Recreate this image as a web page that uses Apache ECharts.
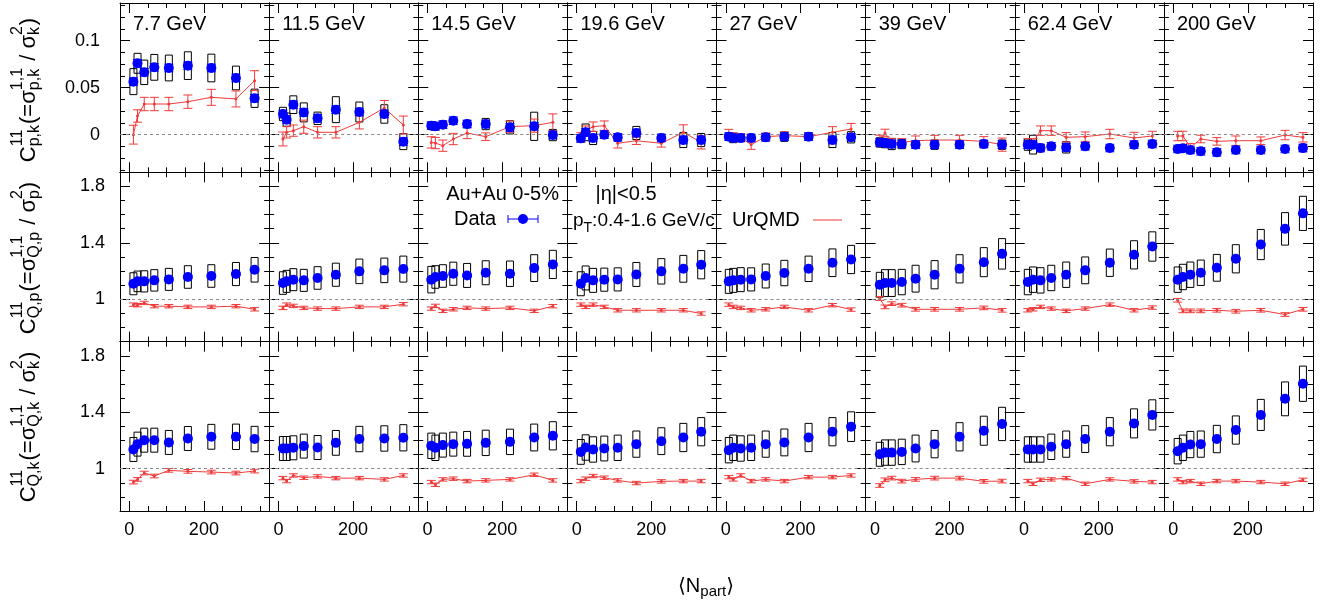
<!DOCTYPE html>
<html>
<head>
<meta charset="utf-8">
<script src="https://cdn.jsdelivr.net/npm/echarts@6/dist/echarts.min.js"></script>
<style>
  html, body { margin: 0; padding: 0; background: #fff; }
  #chart { width: 1334px; height: 605px; }
</style>
</head>
<body>
<div id="chart"></div>
<script>
const FONT = '"Liberation Sans", Arial, Helvetica, "DejaVu Sans", sans-serif';

const energies = ['7.7 GeV', '11.5 GeV', '14.5 GeV', '19.6 GeV', '27 GeV', '39 GeV', '62.4 GeV', '200 GeV'];

// <Npart> per energy
const npart = [
  [11, 22, 40, 67, 106, 157, 220, 286, 336],
  [12, 22, 40, 68, 105, 154, 217, 284, 335],
  [10, 21, 41, 69, 106, 156, 221, 286, 336],
  [11, 24, 44, 74, 110, 160, 227, 286, 334],
  [8, 20, 40, 68, 107, 157, 222, 286, 336],
  [13, 27, 45, 72, 109, 160, 227, 292, 341],
  [10, 24, 44, 73, 113, 164, 230, 295, 344],
  [12, 26, 46, 74, 117, 168, 235, 300, 348]
];

// C11 p,k
const cpkData = [
  [0.0564, 0.0759, 0.0663, 0.0716, 0.0709, 0.0734, 0.0709, 0.0603, 0.0387],
  [0.022, 0.016, 0.0319, 0.0237, 0.0174, 0.0266, 0.0241, 0.022, -0.0074],
  [0.0096, 0.0089, 0.0106, 0.0149, 0.0113, 0.0113, 0.0078, 0.0089, -0.0004],
  [-0.0039, 0.0025, -0.0035, 0.0, -0.0028, 0.0018, -0.0035, -0.0057, -0.0057],
  [-0.0021, -0.0035, -0.0035, -0.0035, -0.0028, -0.0021, -0.0021, -0.0057, -0.0028],
  [-0.0082, -0.0089, -0.0099, -0.0099, -0.0106, -0.0106, -0.0106, -0.0099, -0.0106],
  [-0.0106, -0.0106, -0.0142, -0.0124, -0.0135, -0.0124, -0.0142, -0.0106, -0.0099],
  [-0.0152, -0.0145, -0.0163, -0.0177, -0.0188, -0.0163, -0.0163, -0.0152, -0.0142]
];
const cpkSys = [
  [0.0138, 0.0106, 0.013, 0.0137, 0.0137, 0.0147, 0.0147, 0.0126, 0.0097],
  [0.0071, 0.007, 0.0094, 0.0101, 0.0066, 0.0138, 0.0106, 0.0098, 0.0085],
  [0.004, 0.004, 0.004, 0.003, 0.004, 0.006, 0.007, 0.015, 0.006],
  [0.004, 0.0089, 0.007, 0.003, 0.004, 0.007, 0.004, 0.008, 0.007],
  [0.004, 0.005, 0.004, 0.004, 0.004, 0.005, 0.004, 0.008, 0.006],
  [0.005, 0.005, 0.006, 0.005, 0.004, 0.005, 0.004, 0.004, 0.005],
  [0.006, 0.01, 0.004, 0.003, 0.006, 0.003, 0.003, 0.003, 0.003],
  [0.003, 0.003, 0.003, 0.003, 0.003, 0.003, 0.003, 0.003, 0.004]
];
const cpkUrqmd = [
  [0.0, 0.0199, 0.0326, 0.0326, 0.0326, 0.0351, 0.0397, 0.038, 0.0574],
  [-0.0046, 0.0025, 0.0043, 0.0085, 0.0025, 0.0025, 0.0131, 0.0284, 0.0103],
  [-0.0082, -0.0089, -0.0117, -0.0046, 0.0018, -0.0021, 0.0085, 0.0096, 0.0131],
  [-0.0028, 0.0043, 0.0085, 0.0096, -0.0092, -0.0064, -0.0092, 0.0025, -0.0082],
  [0.0007, -0.002, -0.0028, -0.0106, -0.0021, -0.001, -0.0021, 0.0025, 0.006],
  [-0.0046, 0.0018, -0.0082, -0.0082, -0.0064, -0.0057, -0.0057, -0.0071, -0.0106],
  [-0.0082, -0.0082, 0.0043, 0.0043, -0.0028, -0.0021, 0.0007, -0.0035, -0.0014],
  [-0.0014, -0.0014, -0.0135, -0.0046, -0.0071, -0.0064, -0.0064, -0.0004, -0.0028]
];
const cpkUrqmdErr = [
  [0.01, 0.0066, 0.0071, 0.0071, 0.0071, 0.0071, 0.0085, 0.0085, 0.0106],
  [0.0074, 0.006, 0.006, 0.007, 0.006, 0.006, 0.007, 0.008, 0.0095],
  [0.006, 0.006, 0.006, 0.006, 0.006, 0.004, 0.006, 0.007, 0.009],
  [0.005, 0.005, 0.005, 0.005, 0.005, 0.004, 0.004, 0.008, 0.007],
  [0.005, 0.004, 0.004, 0.005, 0.004, 0.004, 0.004, 0.006, 0.006],
  [0.004, 0.004, 0.004, 0.004, 0.005, 0.005, 0.005, 0.005, 0.007],
  [0.004, 0.004, 0.005, 0.005, 0.005, 0.005, 0.005, 0.006, 0.005],
  [0.005, 0.005, 0.004, 0.004, 0.004, 0.005, 0.004, 0.005, 0.005]
];

// C11 Q,p
const cqpData = [
  [1.11, 1.127, 1.127, 1.134, 1.141, 1.158, 1.165, 1.179, 1.209],
  [1.115, 1.127, 1.139, 1.134, 1.151, 1.174, 1.198, 1.205, 1.214],
  [1.139, 1.158, 1.165, 1.181, 1.169, 1.188, 1.181, 1.221, 1.247],
  [1.11, 1.151, 1.134, 1.139, 1.141, 1.176, 1.198, 1.216, 1.245],
  [1.127, 1.134, 1.139, 1.141, 1.165, 1.186, 1.216, 1.259, 1.282],
  [1.103, 1.115, 1.115, 1.122, 1.146, 1.174, 1.216, 1.263, 1.322],
  [1.122, 1.139, 1.134, 1.151, 1.174, 1.205, 1.259, 1.315, 1.374],
  [1.139, 1.158, 1.174, 1.188, 1.223, 1.287, 1.388, 1.499, 1.609]
];
const cqpSys = [
  [0.078, 0.073, 0.075, 0.076, 0.078, 0.08, 0.08, 0.082, 0.087],
  [0.08, 0.078, 0.078, 0.078, 0.08, 0.082, 0.087, 0.087, 0.092],
  [0.094, 0.08, 0.08, 0.082, 0.085, 0.085, 0.09, 0.095, 0.1],
  [0.085, 0.085, 0.085, 0.082, 0.082, 0.085, 0.09, 0.095, 0.1],
  [0.085, 0.085, 0.085, 0.082, 0.085, 0.09, 0.09, 0.098, 0.1],
  [0.088, 0.095, 0.095, 0.09, 0.095, 0.1, 0.1, 0.103, 0.108],
  [0.09, 0.09, 0.09, 0.09, 0.09, 0.095, 0.097, 0.1, 0.104],
  [0.09, 0.09, 0.09, 0.09, 0.095, 0.1, 0.107, 0.115, 0.121]
];
const cqpUrqmd = [
  [0.962, 0.958, 0.974, 0.951, 0.951, 0.946, 0.946, 0.951, 0.929],
  [0.939, 0.962, 0.953, 0.939, 0.934, 0.934, 0.946, 0.946, 0.965],
  [0.934, 0.953, 0.918, 0.929, 0.939, 0.934, 0.939, 0.918, 0.951],
  [0.962, 0.946, 0.962, 0.946, 0.922, 0.922, 0.922, 0.922, 0.899],
  [0.962, 0.946, 0.939, 0.922, 0.929, 0.946, 0.922, 0.958, 0.927],
  [1.005, 0.946, 0.969, 0.958, 0.929, 0.929, 0.929, 0.939, 0.922],
  [0.922, 0.929, 0.946, 0.934, 0.918, 0.934, 0.962, 0.922, 0.941],
  [0.993, 0.918, 0.918, 0.918, 0.922, 0.915, 0.922, 0.892, 0.929]
];
const cqpUrqmdErr = [0.012, 0.012, 0.012, 0.012, 0.012, 0.013, 0.012, 0.013];

// C11 Q,k
const cqkData = [
  [1.136, 1.174, 1.202, 1.202, 1.186, 1.214, 1.226, 1.226, 1.21],
  [1.143, 1.143, 1.148, 1.16, 1.15, 1.183, 1.21, 1.214, 1.219],
  [1.162, 1.148, 1.167, 1.174, 1.176, 1.183, 1.19, 1.221, 1.233],
  [1.119, 1.15, 1.136, 1.143, 1.148, 1.174, 1.195, 1.221, 1.262],
  [1.131, 1.148, 1.143, 1.148, 1.174, 1.186, 1.221, 1.262, 1.298],
  [1.102, 1.114, 1.114, 1.119, 1.143, 1.174, 1.226, 1.269, 1.317],
  [1.136, 1.136, 1.136, 1.155, 1.174, 1.21, 1.262, 1.321, 1.381],
  [1.124, 1.148, 1.171, 1.174, 1.21, 1.274, 1.381, 1.495, 1.602]
];
const cqkSys = [
  [0.085, 0.085, 0.085, 0.085, 0.085, 0.085, 0.088, 0.09, 0.09],
  [0.085, 0.085, 0.085, 0.085, 0.085, 0.088, 0.09, 0.09, 0.093],
  [0.09, 0.09, 0.085, 0.085, 0.088, 0.09, 0.09, 0.095, 0.1],
  [0.088, 0.09, 0.09, 0.088, 0.09, 0.093, 0.095, 0.1, 0.1],
  [0.09, 0.09, 0.09, 0.09, 0.093, 0.095, 0.1, 0.1, 0.105],
  [0.085, 0.09, 0.09, 0.09, 0.095, 0.097, 0.1, 0.103, 0.118],
  [0.09, 0.09, 0.09, 0.09, 0.093, 0.095, 0.1, 0.103, 0.107],
  [0.09, 0.09, 0.093, 0.093, 0.097, 0.1, 0.11, 0.12, 0.125]
];
const cqkUrqmd = [
  [0.905, 0.924, 0.969, 0.948, 0.988, 0.981, 0.976, 0.969, 0.983],
  [0.933, 0.912, 0.952, 0.936, 0.945, 0.933, 0.933, 0.924, 0.952],
  [0.905, 0.886, 0.924, 0.929, 0.912, 0.917, 0.924, 0.957, 0.917],
  [0.912, 0.929, 0.948, 0.936, 0.917, 0.898, 0.91, 0.912, 0.912],
  [0.94, 0.924, 0.952, 0.912, 0.924, 0.912, 0.94, 0.94, 0.952],
  [0.881, 0.921, 0.933, 0.912, 0.924, 0.933, 0.933, 0.91, 0.912],
  [0.912, 0.893, 0.921, 0.924, 0.933, 0.893, 0.924, 0.91, 0.905],
  [0.924, 0.905, 0.912, 0.893, 0.912, 0.912, 0.905, 0.893, 0.921]
];
const cqkUrqmdErr = [0.013, 0.012, 0.012, 0.012, 0.012, 0.013, 0.012, 0.012];

const statErr = [0.004, 0.008, 0.008];

const xMajor = [0, 200];
const xMinor = [50, 100, 150, 250, 300, 350];

const rows = [
  { data: cpkData, sys: cpkSys, uq: cpkUrqmd, uqErr: cpkUrqmdErr, min: -0.04, max: 0.14, ref: 0,
    major: [0, 0.05, 0.1], minor: [-0.0375, -0.025, -0.0125, 0.0125, 0.025, 0.0375, 0.0625, 0.075, 0.0875, 0.1125, 0.125, 0.1375], labelMargin: 20 },
  { data: cqpData, sys: cqpSys, uq: cqpUrqmd, uqErr: cqpUrqmdErr, min: 0.7, max: 1.9, ref: 1,
    major: [1, 1.4, 1.8], minor: [0.8, 0.9, 1.1, 1.2, 1.3, 1.5, 1.6, 1.7], labelMargin: 15 },
  { data: cqkData, sys: cqkSys, uq: cqkUrqmd, uqErr: cqkUrqmdErr, min: 0.7, max: 1.9, ref: 1,
    major: [1, 1.4, 1.8], minor: [0.8, 0.9, 1.1, 1.2, 1.3, 1.5, 1.6, 1.7], labelMargin: 15 }
];

const PL = 120, PR = 1313;
const colW = (PR - PL) / 8;
const rowTop = [3, 172.3, 341.7];
const rowH = 169.3;
const RED = '#f03a3a';
const BLUE = '#0000ff';

function errBar(color, cap) {
  return function (params, api) {
    const x = api.value(0), y = api.value(1), e = api.value(2);
    const a = api.coord([x, y + e]), b = api.coord([x, y - e]);
    const st = { stroke: color, lineWidth: 1 };
    return { type: 'group', children: [
      { type: 'line', shape: { x1: a[0], y1: a[1], x2: b[0], y2: b[1] }, style: st },
      { type: 'line', shape: { x1: a[0] - cap, y1: a[1], x2: a[0] + cap, y2: a[1] }, style: st },
      { type: 'line', shape: { x1: b[0] - cap, y1: b[1], x2: b[0] + cap, y2: b[1] }, style: st }
    ] };
  };
}

function sysBox(params, api) {
  const x = api.value(0), y = api.value(1), e = api.value(2);
  const a = api.coord([x, y + e]), b = api.coord([x, y - e]);
  return { type: 'rect', shape: { x: a[0] - 3.5, y: a[1], width: 7, height: b[1] - a[1] },
    style: { fill: 'none', stroke: '#000', lineWidth: 1 } };
}

const grids = [], xAxes = [], yAxes = [], series = [];

function xAx(g, pos, ticks, len, line, labels) {
  return {
    type: 'value', gridIndex: g, position: pos, min: -25, max: 375,
    axisLine: { show: line, onZero: false, lineStyle: { color: '#000', width: 1 } },
    axisTick: { show: true, inside: true, length: len, customValues: ticks, lineStyle: { color: '#000', width: 1 } },
    axisLabel: { show: labels, customValues: xMajor, color: '#000', fontSize: 18, fontFamily: FONT, margin: 10 },
    splitLine: { show: false }
  };
}
function yAx(g, pos, r, ticks, len, line, labels) {
  return {
    type: 'value', gridIndex: g, position: pos, min: rows[r].min, max: rows[r].max,
    axisLine: { show: line, onZero: false, lineStyle: { color: '#000', width: 1 } },
    axisTick: { show: true, inside: true, length: len, customValues: ticks, lineStyle: { color: '#000', width: 1 } },
    axisLabel: { show: labels, customValues: rows[r].major, color: '#000', fontSize: 18, fontFamily: FONT, margin: rows[r].labelMargin },
    splitLine: { show: false }
  };
}

rows.forEach((row, r) => {
  for (let c = 0; c < 8; c++) {
    const g = r * 8 + c;
    grids.push({ left: PL + c * colW, top: rowTop[r], width: colW, height: rowH });
    xAxes.push(xAx(g, 'bottom', xMajor, 10, true, r === 2));
    xAxes.push(xAx(g, 'bottom', xMinor, 5, false, false));
    xAxes.push(xAx(g, 'top', xMajor, 10, true, false));
    xAxes.push(xAx(g, 'top', xMinor, 5, false, false));
    yAxes.push(yAx(g, 'left', r, row.major, 10, true, c === 0));
    yAxes.push(yAx(g, 'left', r, row.minor, 5, false, false));
    yAxes.push(yAx(g, 'right', r, row.major, 10, true, false));
    yAxes.push(yAx(g, 'right', r, row.minor, 5, false, false));

    const xs = npart[c];
    const uqErr = (i) => Array.isArray(row.uqErr[c]) ? row.uqErr[c][i] : row.uqErr[c];
    const ax = { xAxisIndex: 4 * g, yAxisIndex: 4 * g };

    series.push(Object.assign({ type: 'custom', z: 2, silent: true, renderItem: sysBox,
      data: xs.map((x, i) => [x, row.data[c][i], row.sys[c][i]]) }, ax));
    series.push(Object.assign({ type: 'custom', z: 3, silent: true, renderItem: errBar(RED, 4.5),
      data: xs.map((x, i) => [x, row.uq[c][i], uqErr(i)]) }, ax));
    series.push(Object.assign({ type: 'line', z: 4, silent: true, name: 'UrQMD',
      data: xs.map((x, i) => [x, row.uq[c][i]]),
      symbol: 'circle', symbolSize: 3, itemStyle: { color: RED }, lineStyle: { color: RED, width: 1 },
      markLine: { silent: true, symbol: ['none', 'none'], label: { show: false },
        lineStyle: { color: '#888', type: [3, 3], width: 1 }, data: [{ yAxis: row.ref }] } }, ax));
    series.push(Object.assign({ type: 'custom', z: 5, silent: true, renderItem: errBar(BLUE, 4.5),
      data: xs.map((x, i) => [x, row.data[c][i], statErr[r]]) }, ax));
    series.push(Object.assign({ type: 'scatter', z: 6, silent: true, name: 'Data',
      data: xs.map((x, i) => [x, row.data[c][i]]),
      symbol: 'circle', symbolSize: 10, itemStyle: { color: BLUE, opacity: 1 } }, ax));
  }
});

// text helpers
const mctx = document.createElement('canvas').getContext('2d');
function tw(s, size) { mctx.font = size + 'px ' + FONT; return mctx.measureText(s).width; }
function txt(x, y, s, size, align) {
  return { type: 'text', x: x, y: y, silent: true,
    style: { text: s, font: size + 'px ' + FONT, fill: '#000', align: align || 'left', verticalAlign: 'middle' } };
}

// rotated y titles: strings are main text, pairs are [superscript, subscript]
function yTitle(parts, cx, cy) {
  const M = 22, S = 16;
  const children = [];
  let x = 0;
  parts.forEach(p => {
    if (typeof p === 'string') {
      children.push(txt(x, 0, p, M));
      x += tw(p, M);
    } else {
      children.push(txt(x, -11, p[0], S));
      children.push(txt(x, 6, p[1], S));
      x += Math.max(tw(p[0], S), tw(p[1], S)) + 1;
    }
  });
  return { type: 'group', x: cx, y: cy + x / 2, rotation: Math.PI / 2, children: children };
}

const graphics = [];
energies.forEach((e, c) => graphics.push(txt(PL + c * colW + 13, 24, e, 20)));

graphics.push(yTitle(['C', ['11', 'p,k'], '(=σ', ['1,1', 'p,k'], ' / σ', ['2', 'k'], ')'], 29, 90));
graphics.push(yTitle(['C', ['11', 'Q,p'], '(=σ', ['1,1', 'Q,p'], ' / σ', ['2', 'p'], ')'], 29, 258));
graphics.push(yTitle(['C', ['11', 'Q,k'], '(=σ', ['1,1', 'Q,k'], ' / σ', ['2', 'k'], ')'], 29, 427));

// x title
(function () {
  const w = tw('⟨N', 20) + tw('part', 15) + tw('⟩', 20);
  let x = 706 - w / 2;
  graphics.push(txt(x, 586, '⟨N', 20)); x += tw('⟨N', 20);
  graphics.push(txt(x, 592, 'part', 15)); x += tw('part', 15);
  graphics.push(txt(x, 586, '⟩', 20));
})();

// legend / annotations
graphics.push(txt(559, 194, 'Au+Au 0-5%', 20, 'right'));
graphics.push(txt(454, 219, 'Data', 20));
graphics.push({ type: 'line', silent: true, shape: { x1: 508, y1: 219, x2: 538, y2: 219 }, style: { stroke: BLUE, lineWidth: 1 } });
graphics.push({ type: 'line', silent: true, shape: { x1: 508, y1: 215, x2: 508, y2: 223 }, style: { stroke: BLUE, lineWidth: 1 } });
graphics.push({ type: 'line', silent: true, shape: { x1: 538, y1: 215, x2: 538, y2: 223 }, style: { stroke: BLUE, lineWidth: 1 } });
graphics.push({ type: 'circle', silent: true, shape: { cx: 523, cy: 219, r: 5 }, style: { fill: BLUE } });
graphics.push(txt(626, 194, '|η|<0.5', 20, 'center'));
(function () {
  let x = 573;
  graphics.push(txt(x, 221, 'p', 19)); x += tw('p', 19);
  graphics.push(txt(x, 228, 'T', 14)); x += tw('T', 14);
  graphics.push(txt(x, 221, ':0.4-1.6 GeV/c', 19));
})();
graphics.push(txt(732, 220, 'UrQMD', 20));
graphics.push({ type: 'line', silent: true, shape: { x1: 813, y1: 220, x2: 842, y2: 220 }, style: { stroke: RED, lineWidth: 1 } });

const chart = echarts.init(document.getElementById('chart'), null, { renderer: 'canvas' });
chart.setOption({
  animation: false,
  backgroundColor: '#fff',
  grid: grids,
  xAxis: xAxes,
  yAxis: yAxes,
  series: series,
  graphic: graphics
});
</script>
</body>
</html>
